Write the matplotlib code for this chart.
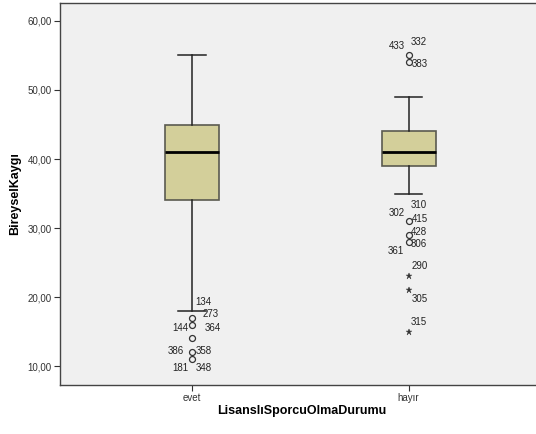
import matplotlib
matplotlib.use("Agg")
import matplotlib.pyplot as plt

plt.rcParams['font.family'] = ['Liberation Sans', 'DejaVu Sans']

# ---- data ----
categories = ['evet', 'hayır']
whisker_low = [18, 35]
q1 = [34, 39]
median = [41, 41]
q3 = [45, 44]
whisker_high = [55, 49]

# outliers: (category index, value, kind)  kind: 'o' = outlier, '*' = extreme
outlier_cat = [0, 0, 0, 0, 0, 1, 1, 1, 1, 1, 1, 1, 1]
outlier_val = [17, 16, 14, 12, 11, 55, 54, 31, 29, 28, 23, 21, 15]
outlier_kind = ['o', 'o', 'o', 'o', 'o', 'o', 'o', 'o', 'o', 'o', '*', '*', '*']

# case labels next to outliers
label_cat = [0, 0, 0, 0, 0, 0, 0, 0,
             1, 1, 1, 1, 1, 1, 1, 1, 1, 1, 1, 1]
label_val = [17, 17, 16, 16, 12, 12, 11, 11,
             55, 55, 54, 31, 31, 31, 29, 28, 28, 23, 21, 15]
label_txt = ['134', '273', '144', '364', '386', '358', '181', '348',
             '433', '332', '383', '310', '302', '415', '428', '306', '361',
             '290', '305', '315']

# layout for labels (pixel offsets from the point, horizontal alignment)
label_off = [(3, 16, 'left'), (11, 4, 'left'), (-4, -3, 'right'), (13, -3, 'left'),
             (-8, 1, 'right'), (4, 1, 'left'), (-4, -9, 'right'), (4, -9, 'left'),
             (-3.5, 9, 'right'), (2.5, 13, 'left'), (3, -2, 'left'),
             (2.5, 16, 'left'), (-3.5, 8, 'right'), (3, 2.5, 'left'),
             (2.5, 3, 'left'), (2.5, -2, 'left'), (-5, -9, 'right'),
             (2.5, 10, 'left'), (3.5, -9, 'left'), (2.5, 9.5, 'left')]

# ---- figure ----
fig = plt.figure(figsize=(5.36, 4.34), dpi=100)
fig.patch.set_facecolor('white')
ax = fig.add_axes([60/536, 49/434, 1 - 60/536, (385 - 2.5)/434])
ax.set_facecolor('#F0F0F0')

positions = [1, 2]
stats = []
for i, c in enumerate(categories):
    stats.append(dict(label=c, whislo=whisker_low[i], q1=q1[i], med=median[i],
                      q3=q3[i], whishi=whisker_high[i], fliers=[]))

ax.bxp(stats, positions=positions, widths=0.25, capwidths=0.125,
       patch_artist=True, showfliers=False,
       boxprops=dict(facecolor='#D3CF9A', edgecolor='#5a5a50', linewidth=1.2),
       medianprops=dict(color='black', linewidth=2),
       whiskerprops=dict(color='#222222', linewidth=1.1),
       capprops=dict(color='#222222', linewidth=1.1))

for c, v, k in zip(outlier_cat, outlier_val, outlier_kind):
    if k == 'o':
        ax.plot(positions[c], v, marker='o', markersize=4.3, markerfacecolor='none',
                markeredgecolor='#333333', markeredgewidth=0.9, linestyle='none')
    else:
        ax.plot(positions[c], v, marker='*', markersize=4.6, color='#333333',
                markeredgewidth=0.3, linestyle='none')

for c, v, t, (dx, dy, ha) in zip(label_cat, label_val, label_txt, label_off):
    ax.annotate(t, xy=(positions[c], v), xytext=(dx, dy), textcoords='offset pixels',
                ha=ha, va='center', fontsize=7, color='#222222')

ax.set_xlim(0.3906, 2.588)
ax.set_ylim(7.25, 62.68)
ax.set_xticks(positions)
ax.set_xticklabels(categories)
yt = [10, 20, 30, 40, 50, 60]
ax.set_yticks(yt)
ax.set_yticklabels([f"{v:.2f}".replace('.', ',') for v in yt])
ax.tick_params(axis='both', labelsize=7, labelcolor='#333333', length=4,
               color='#333333', width=0.8, pad=2)

for s in ['left', 'bottom', 'top']:
    ax.spines[s].set_color('#444444')
    ax.spines[s].set_linewidth(1)
ax.spines['right'].set_visible(False)

ax.set_ylabel('BireyselKaygı', fontsize=9, fontweight='bold')
ax.set_xlabel('LisanslıSporcuOlmaDurumu', fontsize=9, fontweight='bold')
ax.yaxis.set_label_coords(-0.082, 0.5)
ax.xaxis.set_label_coords(0.508, -0.052)

fig.savefig('out.png', dpi=100, facecolor=fig.get_facecolor())
